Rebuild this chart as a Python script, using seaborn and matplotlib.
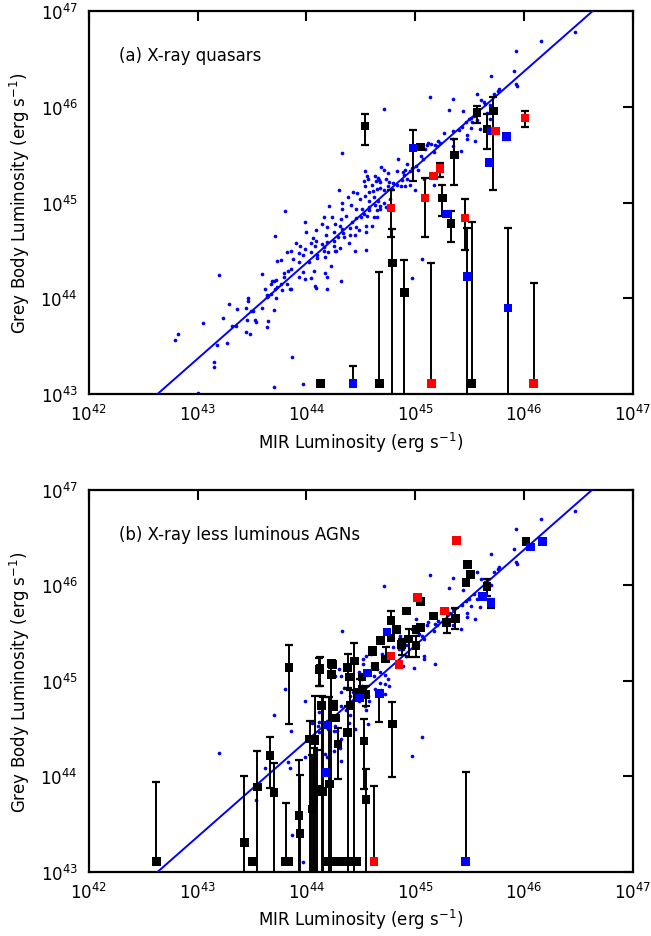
import numpy as np
import pandas as pd
import matplotlib
matplotlib.use("Agg")
import matplotlib.pyplot as plt
import seaborn as sns
from matplotlib.ticker import LogLocator, NullLocator

# all values are log10 luminosities (erg/s)
FLOOR = 42.0  # lower error bar runs off the bottom of the frame
FIT_SLOPE = 1.0
FIT_OFFSET = 0.37

# ---------- panel (a): small blue dots ----------
dots_a = [
    (43.80, 44.91), (43.71, 44.65), (43.82, 44.48), (43.77, 44.40), (43.73, 44.39), (43.83, 44.29),
    (43.79, 44.27), (43.59, 44.25), (43.79, 44.22), (43.72, 44.19), (43.70, 44.18), (43.68, 44.18),
    (43.67, 44.15), (43.77, 44.15), (43.82, 44.15), (43.73, 44.12), (43.71, 44.10), (43.62, 44.10),
    (43.78, 44.09), (43.85, 44.10), (43.67, 44.05), (43.64, 44.04), (43.65, 44.03), (43.72, 44.00),
    (43.64, 44.01), (43.46, 44.00), (43.46, 43.97), (43.29, 43.94), (43.59, 43.90), (43.44, 43.90),
    (43.36, 43.89), (43.49, 43.87), (43.70, 43.88), (43.51, 43.87), (43.23, 43.80), (43.45, 43.77),
    (43.53, 43.77), (43.54, 43.75), (43.65, 43.76), (43.05, 43.74), (43.32, 43.71), (43.35, 43.71),
    (43.64, 43.70), (43.44, 43.65), (43.48, 43.63), (42.82, 43.63), (42.79, 43.56), (43.18, 43.51),
    (43.27, 43.53), (43.20, 44.24), (43.87, 43.39), (43.15, 43.34), (43.15, 43.28), (43.70, 43.07),
    (43.97, 43.11), (43.00, 43.01),
    (44.71, 45.98), (44.33, 45.52), (44.84, 45.46), (44.54, 45.33), (44.56, 45.28), (44.57, 45.25),
    (44.63, 45.28), (44.66, 45.26), (44.67, 45.24), (44.69, 45.37), (44.71, 45.34), (44.75, 45.31),
    (44.83, 45.33), (44.93, 45.40), (44.91, 45.34), (44.89, 45.32), (44.90, 45.29), (44.95, 45.33),
    (44.97, 45.36), (45.01, 45.38), (45.03, 45.34), (44.53, 45.23), (44.54, 45.17), (44.60, 45.19),
    (44.64, 45.23), (44.68, 45.22), (44.73, 45.25), (44.76, 45.22), (44.80, 45.21), (44.88, 45.24),
    (44.93, 45.25), (44.30, 45.13), (44.38, 45.06), (44.43, 45.11), (44.47, 45.10), (44.49, 45.04),
    (44.54, 45.07), (44.58, 45.11), (44.61, 45.12), (44.65, 45.14), (44.68, 45.15), (44.71, 45.13),
    (44.75, 45.17), (44.79, 45.14), (44.83, 45.19), (44.87, 45.17), (44.91, 45.17), (44.95, 45.19),
    (45.00, 45.13), (44.21, 44.97), (44.33, 45.00), (44.33, 44.93), (44.41, 44.98), (44.46, 44.93),
    (44.51, 44.93), (44.53, 44.88), (44.58, 44.95), (44.63, 44.98), (44.65, 44.92), (44.68, 44.97),
    (44.73, 44.96), (44.77, 45.04), (44.66, 45.02), (44.71, 45.00), (44.58, 45.02), (44.62, 45.06),
    (44.16, 44.85), (44.24, 44.85), (44.32, 44.83), (44.36, 44.86), (44.42, 44.80), (44.46, 44.84),
    (44.50, 44.85), (44.56, 44.86), (44.62, 44.85), (44.65, 44.85), (44.60, 44.76), (44.55, 44.76),
    (44.58, 44.92), (44.68, 44.93), (43.99, 44.80), (44.09, 44.71), (44.14, 44.78), (44.19, 44.75),
    (44.26, 44.78), (44.31, 44.76), (44.33, 44.73), (44.40, 44.74), (44.46, 44.75), (44.48, 44.71),
    (44.55, 44.69), (44.25, 44.69), (44.34, 44.68), (44.00, 44.69), (44.06, 44.63), (44.09, 44.60),
    (44.18, 44.66), (44.19, 44.59), (44.25, 44.60), (44.29, 44.64), (44.35, 44.64), (44.40, 44.66),
    (44.39, 44.58), (44.45, 44.66), (43.90, 44.58), (43.94, 44.55), (43.99, 44.52), (44.04, 44.58),
    (44.08, 44.55), (44.14, 44.57), (44.16, 44.54), (44.25, 44.55), (44.26, 44.50), (44.31, 44.53),
    (44.45, 44.50), (44.55, 44.51), (43.86, 44.49), (43.93, 44.47), (43.97, 44.45), (44.04, 44.48),
    (44.10, 44.45), (44.16, 44.50), (44.20, 44.48), (44.27, 44.49), (43.88, 44.41), (43.93, 44.38),
    (44.02, 44.38), (44.10, 44.42), (44.17, 44.43), (44.23, 44.34), (43.86, 44.31), (43.97, 44.28),
    (44.07, 44.29), (44.17, 44.26), (44.19, 44.22), (43.93, 44.22), (43.99, 44.20), (44.04, 44.21),
    (44.08, 44.13), (43.86, 44.10), (44.32, 44.18), (44.09, 44.11), (44.19, 44.10), (45.06, 44.41),
    (44.97, 44.21),
    (46.47, 46.78), (46.16, 46.69), (45.93, 46.59), (45.91, 46.38), (45.70, 46.32), (45.93, 46.24),
    (45.94, 46.22), (45.77, 46.19), (45.76, 46.17), (45.73, 46.14), (45.57, 46.14), (45.14, 46.10),
    (45.35, 46.08), (45.61, 46.07), (45.63, 46.05), (45.64, 46.03), (45.69, 46.02), (45.31, 45.97),
    (45.44, 45.96), (45.54, 45.91), (45.51, 45.89), (45.50, 45.87), (45.47, 45.84), (45.52, 45.84),
    (45.57, 45.86), (45.66, 45.94), (45.69, 45.87), (45.60, 45.77), (45.51, 45.78), (45.43, 45.79),
    (45.40, 45.76), (45.35, 45.75), (45.27, 45.73), (45.48, 45.71), (45.48, 45.67), (45.55, 45.65),
    (45.21, 45.65), (45.23, 45.62), (45.18, 45.60), (45.15, 45.61), (45.12, 45.62), (45.11, 45.60),
    (45.20, 45.59), (45.17, 45.53), (45.35, 45.67), (45.35, 45.59), (45.42, 45.54), (45.09, 45.56),
    (45.05, 45.49), (45.07, 45.46), (45.08, 45.25), (45.17, 45.19),
]

# ---------- panel (b): small blue dots ----------
dots_b = [
    (46.47, 46.78), (46.16, 46.69), (45.93, 46.59), (45.91, 46.38), (45.70, 46.33), (45.93, 46.24),
    (45.94, 46.22), (45.77, 46.19), (45.76, 46.17), (45.73, 46.14), (45.57, 46.14), (45.14, 46.11),
    (45.35, 46.08), (45.61, 46.07), (45.64, 46.03), (45.31, 45.97), (45.44, 45.95), (45.70, 46.00),
    (45.54, 45.91), (45.50, 45.86), (45.47, 45.84), (45.57, 45.86), (45.60, 45.77), (45.51, 45.78),
    (45.43, 45.79), (45.35, 45.75), (45.48, 45.71), (45.48, 45.67), (45.55, 45.65), (45.21, 45.63),
    (45.18, 45.59), (45.12, 45.62), (45.11, 45.58), (45.20, 45.58), (45.17, 45.52), (45.35, 45.66),
    (45.35, 45.58), (45.42, 45.54), (45.06, 45.47), (45.08, 45.44), (45.08, 45.26), (45.08, 45.23),
    (45.18, 45.18), (45.06, 44.41),
    (44.71, 45.99), (45.01, 45.65), (44.33, 45.52), (44.97, 45.54), (45.01, 45.51), (45.04, 45.49),
    (44.86, 45.47), (44.89, 45.42), (44.92, 45.38), (44.98, 45.38), (45.03, 45.37), (44.80, 45.35),
    (44.85, 45.33), (44.89, 45.33), (44.52, 45.23), (44.55, 45.26), (44.59, 45.28), (44.92, 45.26),
    (44.70, 45.28), (44.72, 45.23), (44.78, 45.25), (44.86, 45.21), (44.89, 45.16), (44.83, 45.16),
    (44.99, 45.13), (44.52, 45.18), (44.60, 45.16), (44.65, 45.12), (44.68, 45.09), (44.72, 45.06),
    (44.75, 45.02), (44.30, 45.12), (44.26, 45.05), (44.32, 45.05), (44.35, 44.93), (44.32, 44.88),
    (44.51, 45.02), (44.48, 45.09), (44.39, 45.05), (44.62, 45.05), (44.68, 44.98), (44.72, 44.97),
    (44.76, 44.95), (44.51, 44.95), (44.43, 44.88), (44.52, 44.88), (44.57, 44.84), (44.58, 44.79),
    (44.63, 44.91), (44.69, 44.90), (44.72, 44.86), (44.40, 44.84), (44.45, 44.81), (44.48, 44.79),
    (44.54, 44.74), (44.55, 44.69), (44.32, 44.74), (44.36, 44.70), (44.40, 44.64), (44.39, 44.56),
    (43.99, 44.79), (44.12, 44.67), (44.19, 44.58), (44.23, 44.63), (44.26, 44.53), (44.20, 44.50),
    (44.25, 44.48), (44.28, 44.48), (44.32, 44.39), (44.29, 44.35), (44.31, 44.30), (44.25, 44.27),
    (44.11, 44.53), (44.12, 44.46), (44.05, 44.56), (44.17, 44.23), (44.19, 44.20), (43.99, 44.20),
    (44.32, 44.16), (44.45, 44.50), (44.57, 44.55), (44.97, 44.21),
    (43.80, 44.91), (43.70, 44.64), (43.86, 44.48), (44.12, 44.57), (43.20, 44.24), (43.62, 44.09),
    (43.83, 44.15), (43.85, 44.09), (43.54, 43.75), (43.87, 43.39), (43.97, 43.10),
]

# ---------- squares: (x, y, upper, lower, group); nan = no bar ----------
nan = np.nan
squares_a = [
    (44.54, 45.80, 45.93, 45.60, "black"), (45.05, 45.58, nan, nan, "black"),
    (45.57, 45.94, 46.01, 45.83, "black"), (45.72, 45.96, 46.11, 45.13, "black"),
    (45.66, 45.77, 45.93, 45.56, "black"), (45.36, 45.50, 45.67, 45.19, "black"),
    (45.25, 45.05, 45.19, 44.86, "black"), (45.33, 44.78, 44.91, 44.59, "black"),
    (44.79, 44.37, 44.72, FLOOR, "black"), (44.90, 44.06, 44.40, FLOOR, "black"),
    (44.67, 43.11, 44.28, nan, "black"), (45.52, 43.11, 44.80, nan, "black"),
    (44.13, 43.11, nan, nan, "black"),
    (44.98, 45.57, 45.76, 45.23, "blue"), (45.70, 45.75, nan, nan, "blue"),
    (45.84, 45.69, 45.72, 45.66, "blue"), (45.68, 45.42, 45.45, 45.39, "blue"),
    (45.29, 44.88, nan, nan, "blue"), (45.48, 44.23, 44.74, FLOOR, "blue"),
    (45.855, 43.90, 44.74, FLOOR, "blue"), (44.43, 43.11, 43.29, nan, "blue"),
    (45.74, 45.75, nan, nan, "red"), (46.01, 45.885, 45.955, 45.795, "red"),
    (45.23, 45.36, 45.42, 45.27, "red"), (45.17, 45.28, nan, nan, "red"),
    (45.09, 45.05, 45.26, 44.645, "red"), (44.78, 44.945, 45.13, 44.645, "red"),
    (45.46, 44.84, 45.04, 44.51, "red"), (45.15, 43.11, 44.37, nan, "red"),
    (46.09, 43.11, 44.16, nan, "red"),
]

squares_b = [
    (42.62, 43.11, 43.94, nan, "black"), (43.43, 43.31, 44.00, FLOOR, "black"),
    (43.50, 43.11, nan, nan, "black"), (43.55, 43.89, 44.27, FLOOR, "black"),
    (43.665, 44.22, 44.41, 43.88, "black"), (43.70, 43.83, 44.14, FLOOR, "black"),
    (43.81, 43.11, 43.72, nan, "black"), (43.84, 43.11, nan, nan, "black"),
    (43.84, 45.14, 45.38, 44.55, "black"), (43.93, 43.59, 44.17, FLOOR, "black"),
    (43.94, 43.40, 44.02, FLOOR, "black"), (44.03, 44.39, 44.58, FLOOR, "black"),
    (44.05, 43.66, 44.22, FLOOR, "black"), (44.07, 43.76, 44.30, FLOOR, "black"),
    (44.08, 44.37, 44.84, FLOOR, "black"), (44.10, 43.87, 44.28, FLOOR, "black"),
    (44.12, 45.12, 45.24, 44.95, "black"), (44.14, 44.74, 44.84, FLOOR, "black"),
    (44.15, 43.84, 44.83, FLOOR, "black"), (44.17, 43.11, nan, nan, "black"),
    (44.22, 43.11, nan, nan, "black"), (44.28, 43.11, nan, nan, "black"),
    (44.32, 43.11, nan, nan, "black"), (44.37, 43.11, nan, nan, "black"),
    (44.42, 43.11, nan, nan, "black"), (44.46, 43.11, nan, nan, "black"),
    (44.21, 43.92, 44.83, FLOOR, "black"), (44.23, 45.07, 45.21, FLOOR, "black"),
    (44.24, 45.17, nan, nan, "black"), (44.25, 44.73, 44.79, nan, "black"),
    (44.27, 44.61, nan, nan, "black"), (44.29, 44.34, 44.51, 43.97, "black"),
    (44.38, 45.14, 45.28, 44.93, "black"), (44.39, 45.04, nan, nan, "black"),
    (44.38, 44.46, 44.74, FLOOR, "black"), (44.44, 45.21, 45.40, FLOOR, "black"),
    (44.51, 45.04, nan, nan, "black"), (44.49, 44.88, 45.02, nan, "black"),
    (44.53, 44.37, 44.60, 43.87, "black"), (44.55, 43.76, 44.08, FLOOR, "black"),
    (44.61, 45.30, nan, nan, "black"), (44.63, 45.15, nan, nan, "black"),
    (44.79, 44.55, 44.78, 43.99, "black"), (44.73, 45.23, 45.35, nan, "black"),
    (44.68, 45.42, nan, nan, "black"), (44.78, 45.63, 45.73, nan, "black"),
    (44.83, 45.54, nan, nan, "black"), (44.78, 45.45, nan, nan, "black"),
    (44.87, 45.38, nan, nan, "black"), (44.94, 45.44, 45.54, 45.25, "black"),
    (44.92, 45.73, nan, nan, "black"), (45.05, 45.83, nan, nan, "black"),
    (45.01, 45.54, nan, nan, "black"), (45.05, 45.56, nan, nan, "black"),
    (45.01, 45.37, 45.47, 45.25, "black"), (45.17, 45.68, nan, nan, "black"),
    (45.29, 45.61, 45.71, 45.50, "black"), (45.37, 45.65, 45.76, 45.54, "black"),
    (45.47, 46.03, nan, nan, "black"), (45.51, 46.11, nan, nan, "black"),
    (45.48, 46.22, nan, nan, "black"), (45.66, 45.99, 46.07, 45.89, "black"),
    (46.02, 46.46, nan, nan, "black"), (44.88, 45.38, 45.44, 45.27, "black"),
    (44.61, 45.32, nan, nan, "black"), (44.125, 45.13, 45.245, 44.95, "black"),
    (44.23, 45.18, nan, nan, "black"), (44.23, 45.06, nan, nan, "black"),
    (44.55, 44.86, 44.95, 44.74, "black"), (44.51, 44.91, nan, nan, "black"),
    (44.40, 44.74, 44.90, nan, "black"), (44.08, 44.39, nan, nan, "black"),
    (44.19, 44.54, nan, nan, "blue"), (44.18, 44.04, nan, nan, "blue"),
    (44.56, 45.08, nan, nan, "blue"), (44.49, 44.82, nan, nan, "blue"),
    (44.67, 44.87, nan, 44.57, "blue"), (44.74, 45.51, nan, nan, "blue"),
    (45.465, 43.11, 44.05, nan, "blue"), (45.62, 45.88, nan, nan, "blue"),
    (45.70, 45.82, 45.86, 45.76, "blue"), (46.06, 46.40, nan, nan, "blue"),
    (46.17, 46.46, nan, nan, "blue"),
    (44.62, 43.11, 43.90, nan, "red"), (44.78, 45.26, nan, nan, "red"),
    (44.85, 45.17, nan, nan, "red"), (45.02, 45.87, nan, nan, "red"),
    (45.27, 45.73, nan, nan, "red"), (45.38, 46.47, nan, nan, "red"),
]

PANELS = [("(a) X-ray quasars", dots_a, squares_a),
          ("(b) X-ray less luminous AGNs", dots_b, squares_b)]
PALETTE = {"black": "black", "blue": "#0000ff", "red": "#ff0000"}

sns.set_style("white")
plt.rcParams["font.family"] = ["DejaVu Sans"]
plt.rcParams["text.color"] = "black"
plt.rcParams["axes.labelcolor"] = "black"
plt.rcParams["xtick.color"] = "black"
plt.rcParams["ytick.color"] = "black"

fig = plt.figure(figsize=(6.51, 9.37), dpi=100)
rects = [[0.1367, 0.5784, 0.8349, 0.4084], [0.1367, 0.0683, 0.8349, 0.4080]]

for rect, (title, dots, squares) in zip(rects, PANELS):
    ax = fig.add_axes(rect)
    ax.set_xscale("log")
    ax.set_yscale("log")

    d = pd.DataFrame(dots, columns=["lx", "ly"])
    sns.scatterplot(x=10 ** d["lx"], y=10 ** d["ly"], color="#0000ff", s=7,
                    marker="o", linewidth=0, ax=ax, zorder=2)

    fit_x = np.array([42.0, 47.0])
    sns.lineplot(x=10 ** fit_x, y=10 ** (FIT_SLOPE * fit_x + FIT_OFFSET),
                 color="#0000ff", linewidth=1.4, ax=ax, zorder=3)

    s = pd.DataFrame(squares, columns=["lx", "ly", "up", "lo", "group"])
    up = s["up"].fillna(s["ly"])
    lo = s["lo"].fillna(s["ly"])
    has_bar = s["up"].notna() | s["lo"].notna()
    e = s[has_bar]
    ax.errorbar(10 ** e["lx"], 10 ** e["ly"],
                yerr=[10 ** e["ly"] - 10 ** lo[has_bar], 10 ** up[has_bar] - 10 ** e["ly"]],
                fmt="none", ecolor="black", elinewidth=1.4, capsize=2.6, capthick=1.6,
                zorder=4)
    s["X"] = 10 ** s["lx"]
    s["Y"] = 10 ** s["ly"]
    sns.scatterplot(data=s, x="X", y="Y", hue="group", palette=PALETTE, marker="s",
                    s=38, linewidth=0, legend=False, ax=ax, zorder=5)

    ax.set_xlim(1e42, 1e47)
    ax.set_ylim(1e43, 1e47)
    ax.xaxis.set_major_locator(LogLocator(base=10, numticks=10))
    ax.yaxis.set_major_locator(LogLocator(base=10, numticks=10))
    ax.xaxis.set_minor_locator(NullLocator())
    ax.yaxis.set_minor_locator(NullLocator())
    ax.tick_params(which="major", direction="in", length=7, width=1.5,
                   top=True, right=True, labelsize=12)
    ax.tick_params(axis="x", pad=7)
    ax.tick_params(axis="y", pad=8)
    for sp in ax.spines.values():
        sp.set_linewidth(1.6)
        sp.set_color("black")

    ax.set_xlabel("MIR Luminosity (erg s$^{-1}$)", fontsize=12, labelpad=4)
    ax.set_ylabel("Grey Body Luminosity (erg s$^{-1}$)", fontsize=12, labelpad=6)
    ax.text(0.055, 0.885, title, transform=ax.transAxes, fontsize=12,
            ha="left", va="center")

fig.savefig("out.png", dpi=100)
